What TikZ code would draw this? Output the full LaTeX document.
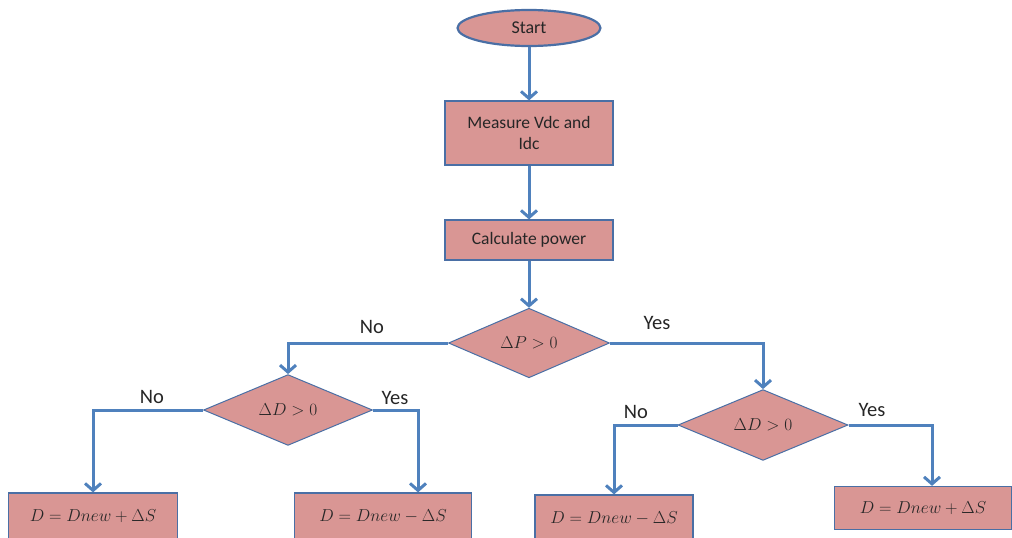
\documentclass[tikz,border=0pt]{standalone}
\usepackage{fontspec}
\setmainfont{Carlito}
\usetikzlibrary{shapes.geometric,arrows.meta}
\definecolor{boxfill}{HTML}{D99694}
\definecolor{boxline}{HTML}{4A6FA5}
\definecolor{arrowc}{HTML}{4F81BD}
\tikzset{
  flowbox/.style={rectangle, draw=boxline, line width=1.2pt, fill=boxfill, inner sep=0pt, align=center, font=\fontsize{17.5}{21}\selectfont, text=black!85},
  startbox/.style={ellipse, draw=boxline, line width=2.2pt, fill=boxfill, inner sep=0pt, minimum width=143pt, minimum height=36pt, font=\fontsize{18}{21}\selectfont, text=black!85},
  decision/.style={diamond, draw=boxline, line width=1pt, fill=boxfill, inner sep=0pt, font=\fontsize{18}{21}\selectfont, text=black!85},
  conn/.style={draw=arrowc, line width=3pt, -{Straight Barb[length=7pt,width=16pt,line width=3pt]}},
  lbl/.style={font=\fontsize{20.5}{22}\selectfont, inner sep=0pt, text=black!85},
}
\begin{document}
\begin{tikzpicture}[x=1pt,y=-1pt]
\useasboundingbox (0,0) rectangle (1012,538);
\node[startbox] (start) at (529,28) {Start};
\node[flowbox, minimum width=168pt, minimum height=64pt] (meas) at (529,133) {Measure Vdc and\\Idc};
\node[flowbox, minimum width=168pt, minimum height=40pt] (calc) at (529,240) {Calculate power};
\node[decision, minimum width=161pt, minimum height=67pt] (dp) at (529,343) {$\Delta P > 0$};
\node[decision, minimum width=169pt, minimum height=60pt] (dd1) at (288,410) {$\Delta D > 0$};
\node[decision, minimum width=170pt, minimum height=60pt] (dd2) at (763,425) {$\Delta D > 0$};
\node[flowbox, minimum width=169pt, minimum height=46pt] (b1) at (93,516) {$D = Dnew + \Delta S$};
\node[flowbox, minimum width=177pt, minimum height=46pt] (b2) at (383,516) {$D = Dnew - \Delta S$};
\node[flowbox, minimum width=158pt, minimum height=46pt] (b3) at (614,518) {$D = Dnew - \Delta S$};
\node[flowbox, minimum width=177pt, minimum height=43pt] (b4) at (923,508) {$D = Dnew + \Delta S$};
\node[lbl] (lno1) at (372,327) {No};
\node[lbl] (lyes1) at (657,323) {Yes};
\node[lbl] (lno2) at (152,397) {No};
\node[lbl] (lyes2) at (395,398) {Yes};
\node[lbl] (lno3) at (636,412) {No};
\node[lbl] (lyes3) at (872,410) {Yes};
\draw[conn] (start) -- (meas);
\draw[conn] (meas) -- (calc);
\draw[conn] (calc) -- (dp);
\draw[conn] (dp.west) -| (dd1.north);
\draw[conn] (dp.east) -| (dd2.north);
\draw[conn] (dd1.west) -| (b1.north);
\draw[conn] (dd1.east) -| ([xshift=35pt]b2.north);
\draw[conn] (dd2.west) -| (b3.north);
\draw[conn] (dd2.east) -| ([xshift=9pt]b4.north);
\end{tikzpicture}
\end{document}
